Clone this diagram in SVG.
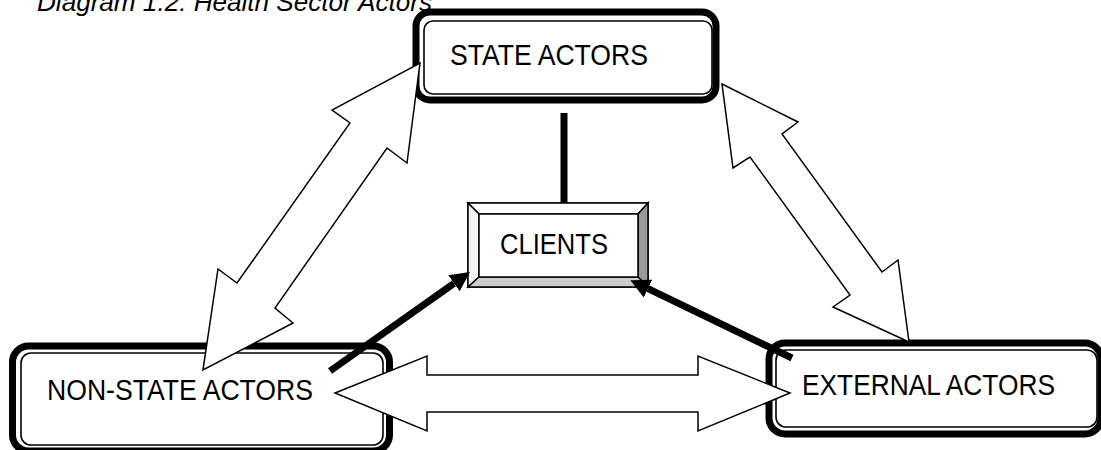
<svg xmlns="http://www.w3.org/2000/svg" width="1101" height="450" viewBox="0 0 1101 450">
  <style>
    .lbl { font-family: "Liberation Sans", Arial, sans-serif; font-size: 30px; fill: #000; }
    .title { font-family: "Liberation Sans", Arial, sans-serif; font-size: 25px; font-style: italic; fill: #000; }
    .outer { fill: #fff; stroke: #000; stroke-width: 7; }
    .inner { fill: #fff; stroke: #000; stroke-width: 1.6; }
    .bevel { stroke: #000; stroke-width: 1.5; stroke-linejoin: miter; }
    .block { fill: #fff; stroke: #000; stroke-width: 1.5; stroke-linejoin: miter; }
    .thick { fill: none; stroke: #000; stroke-width: 7; }
  </style>
  <defs>
    <marker id="head" viewBox="0 0 10 10" refX="0" refY="5" markerWidth="2.8" markerHeight="3.4" markerUnits="strokeWidth" orient="auto">
      <path d="M0,0 L10,5 L0,10 z" fill="#000"/>
    </marker>
  </defs>
  <rect width="1101" height="450" fill="#fff"/>

  <text class="title" x="37" y="11" textLength="395" lengthAdjust="spacingAndGlyphs">Diagram 1.2: Health Sector Actors</text>

  <g id="state-actors">
    <rect class="outer" x="416" y="12" width="300" height="88" rx="14"/>
    <rect class="inner" x="424" y="21" width="288" height="73" rx="9"/>
    <text class="lbl" x="450" y="65" textLength="198" lengthAdjust="spacingAndGlyphs">STATE ACTORS</text>
  </g>

  <g id="non-state-actors">
    <rect class="outer" x="12.5" y="346" width="377" height="105" rx="16"/>
    <rect class="inner" x="21" y="353" width="362" height="92" rx="10"/>
    <text class="lbl" x="47" y="400" textLength="266" lengthAdjust="spacingAndGlyphs">NON-STATE ACTORS</text>
  </g>

  <g id="external-actors">
    <rect class="outer" x="769" y="343" width="332" height="91" rx="16"/>
    <rect class="inner" x="776" y="350" width="321" height="77" rx="10"/>
    <text class="lbl" x="802" y="395" textLength="253" lengthAdjust="spacingAndGlyphs">EXTERNAL ACTORS</text>
  </g>

  <g id="clients">
    <rect x="468" y="203" width="180" height="84" fill="#fff" stroke="#000" stroke-width="1.5"/>
    <polygon class="bevel" fill="#fff" points="468,203 648,203 638,214 479,214"/>
    <polygon class="bevel" fill="#f4f4f4" points="468,203 479,214 479,277 468,287"/>
    <polygon class="bevel" fill="#999" points="648,203 648,287 638,277 638,214"/>
    <polygon class="bevel" fill="#ccc" points="468,287 648,287 638,277 479,277"/>
    <rect x="479" y="214" width="159" height="63" fill="#fff" stroke="#000" stroke-width="1.5"/>
    <text class="lbl" x="500" y="254" textLength="108" lengthAdjust="spacingAndGlyphs">CLIENTS</text>
  </g>

  <g id="connectors">
    <polygon class="block" points="420,63 407,163 387,148 275,308 293,323 203,370 218,269 237,283 350,123 332,110"/>
    <polygon class="block" points="722,84 798,122 782,134 882,272 898,260 909,342 833,307 850,295 750,157 733,168"/>
    <polygon class="block" points="335,393 427,356 427,375 698,375 698,356 790,393 698,431 698,412 427,412 427,431"/>
    <line class="thick" x1="564" y1="113" x2="564" y2="203"/>
    <line class="thick" x1="330" y1="371" x2="454" y2="283.3" marker-end="url(#head)"/>
    <line class="thick" x1="792" y1="358" x2="648" y2="288.7" marker-end="url(#head)"/>
  </g>
</svg>
